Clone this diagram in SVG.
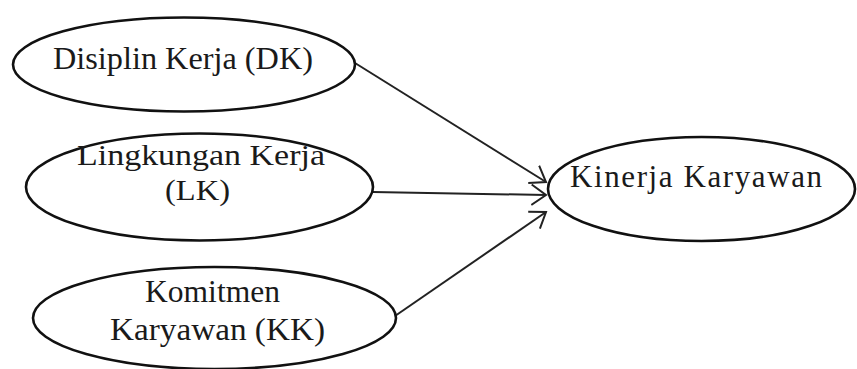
<svg xmlns="http://www.w3.org/2000/svg" width="857" height="369" viewBox="0 0 857 369">
<style>
.node ellipse{fill:#fff;stroke:#111;stroke-width:2.6}
.node text{font-family:"Liberation Serif","Times New Roman",serif;font-size:31px;fill:#1a1a1a}
.node text.tight{font-size:29px}
.edge{stroke:#222;stroke-width:2;fill:none;marker-end:url(#arr)}
</style>
<defs>
<marker id="arr" markerUnits="userSpaceOnUse" markerWidth="18" markerHeight="24" refX="15" refY="12" orient="auto" viewBox="0 0 18 24">
<path d="M0.5,1.7 L15,12 L0.5,22.3" fill="none" stroke="#222" stroke-width="2"/>
</marker>
</defs>
<rect width="857" height="369" fill="#fff"/>
<g id="connectors">
<line class="edge" x1="355" y1="63" x2="546" y2="182"/>
<line class="edge" x1="373" y1="192" x2="546" y2="195"/>
<line class="edge" x1="395" y1="316" x2="546" y2="212"/>
</g>
<g id="DK" class="node">
<ellipse cx="184" cy="64.5" rx="171" ry="47"/>
<text x="53" y="69" textLength="260" lengthAdjust="spacingAndGlyphs">Disiplin Kerja (DK)</text>
</g>
<g id="LK" class="node">
<ellipse cx="199.5" cy="187" rx="173.5" ry="53.5"/>
<text class="tight" x="77" y="165" textLength="248" lengthAdjust="spacingAndGlyphs">Lingkungan Kerja</text>
<text class="tight" x="165" y="200" textLength="65" lengthAdjust="spacingAndGlyphs">(LK)</text>
</g>
<g id="KK" class="node">
<ellipse cx="214.5" cy="318" rx="181.5" ry="51"/>
<text x="145" y="302" textLength="135" lengthAdjust="spacingAndGlyphs">Komitmen</text>
<text x="110" y="340" textLength="215" lengthAdjust="spacingAndGlyphs">Karyawan (KK)</text>
</g>
<g id="KIN" class="node">
<ellipse cx="701.5" cy="189" rx="153.5" ry="52"/>
<text x="570" y="187" textLength="252" lengthAdjust="spacing">Kinerja Karyawan</text>
</g>
</svg>
